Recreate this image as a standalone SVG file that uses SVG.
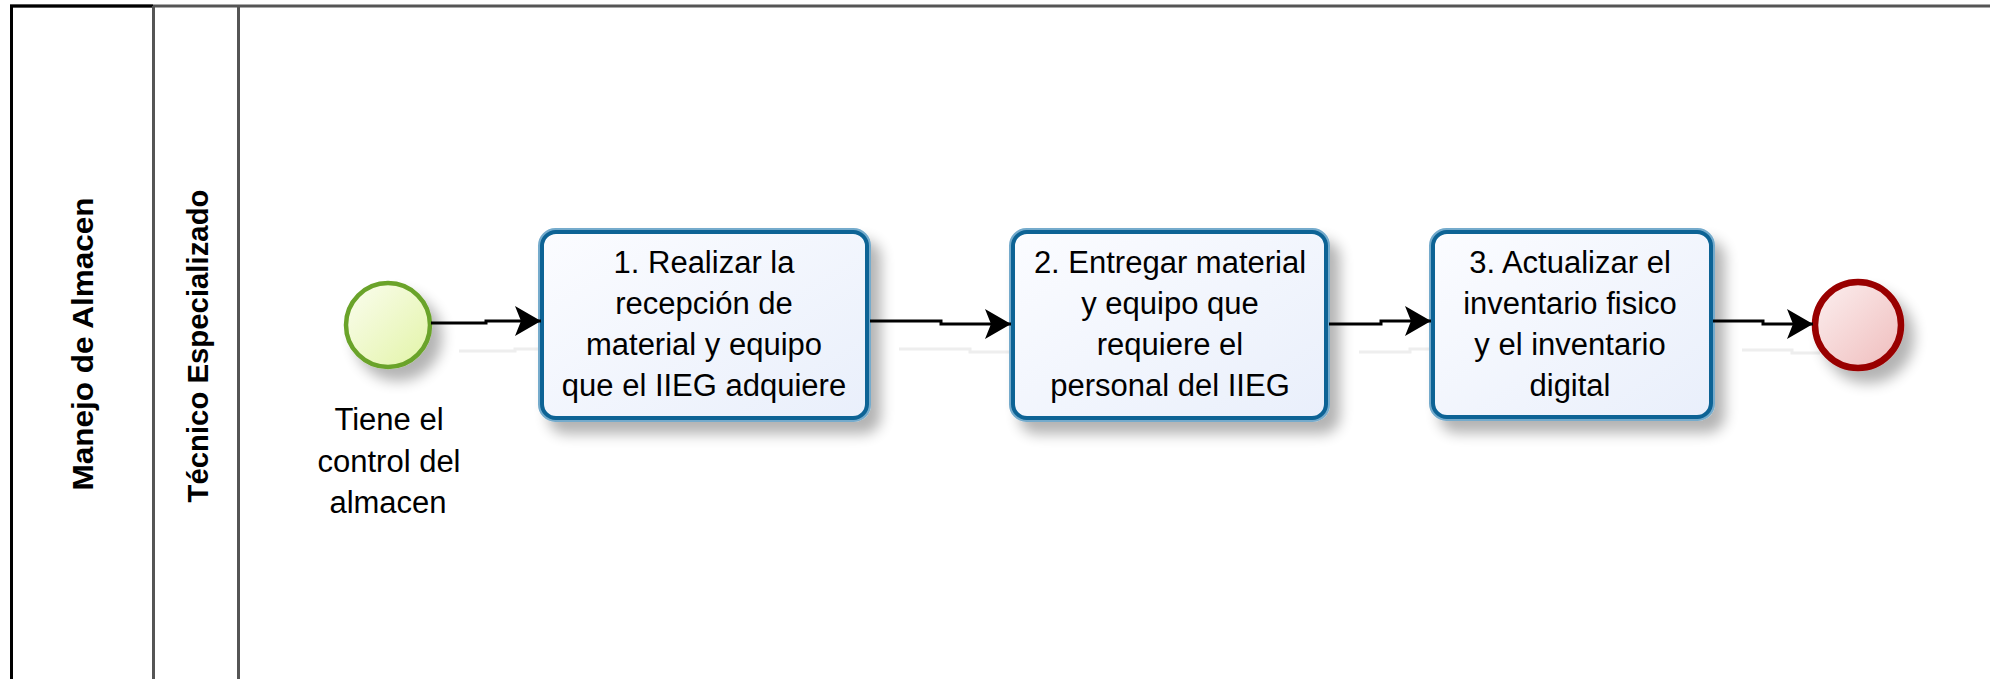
<svg xmlns="http://www.w3.org/2000/svg" width="1990" height="679" viewBox="0 0 1990 679">
<style>
.lbl{font-family:"Liberation Sans",Arial,sans-serif;font-size:31px;fill:#000;text-anchor:middle}
.lane{font-family:"Liberation Sans",Arial,sans-serif;font-size:30px;font-weight:bold;fill:#000;text-anchor:middle}
.conn{fill:none;stroke:#000;stroke-width:3;marker-end:url(#arr)}
.csh{fill:none;stroke:#eeeeee;stroke-width:3}
.boxo{fill:none;stroke:#74abcc;stroke-width:3}
.boxi{fill:url(#gBox);stroke:#0d6395;stroke-width:4}
</style>
<defs>
<linearGradient id="gBox" x1="0" y1="0" x2="1" y2="1">
<stop offset="0" stop-color="#fbfcff"/><stop offset="1" stop-color="#e9effb"/>
</linearGradient>
<linearGradient id="gStart" x1="0" y1="0" x2="1" y2="1">
<stop offset="0" stop-color="#fbfdf0"/><stop offset="1" stop-color="#e2f4a6"/>
</linearGradient>
<linearGradient id="gEnd" x1="0" y1="0" x2="1" y2="1">
<stop offset="0" stop-color="#fcf0f0"/><stop offset="1" stop-color="#efbcbc"/>
</linearGradient>
<filter id="sh" x="-30%" y="-30%" width="170%" height="170%">
<feGaussianBlur in="SourceAlpha" stdDeviation="7"/>
<feOffset dx="10" dy="12"/>
<feComponentTransfer><feFuncA type="linear" slope="0.3"/></feComponentTransfer>
<feMerge><feMergeNode/><feMergeNode in="SourceGraphic"/></feMerge>
</filter>
<marker id="arr" viewBox="-27 -16 28 32" markerWidth="28" markerHeight="32" refX="0" refY="0" orient="auto" markerUnits="userSpaceOnUse">
<path d="M0,0 L-26,-15 L-20,0 L-26,15 Z" fill="#000"/>
</marker>
</defs>
<g id="pool">
<line x1="10" y1="6" x2="1990" y2="6" stroke="#555" stroke-width="3"/>
<line x1="10" y1="6" x2="153" y2="6" stroke="#000" stroke-width="3"/>
<line x1="11.5" y1="5" x2="11.5" y2="679" stroke="#000" stroke-width="3"/>
<line x1="153.5" y1="6" x2="153.5" y2="679" stroke="#555" stroke-width="3"/>
<line x1="238.5" y1="6" x2="238.5" y2="679" stroke="#555" stroke-width="3"/>
<text class="lane" transform="translate(93,344) rotate(-90)" textLength="293" lengthAdjust="spacingAndGlyphs">Manejo de Almacen</text>
<text class="lane" transform="translate(208,346) rotate(-90)" textLength="313" lengthAdjust="spacingAndGlyphs">Técnico Especializado</text>
</g>
<g id="connector-shadows">
<polyline class="csh" points="459,351 515,351 515,349 569,349"/>
<polyline class="csh" points="899,349 970,349 970,352 1038,352"/>
<polyline class="csh" points="1359,352 1410,352 1410,349 1458,349"/>
<polyline class="csh" points="1742,350 1792,350 1792,353 1820,353"/>
</g>
<g id="start">
<circle cx="388" cy="325" r="42" fill="url(#gStart)" stroke="#6aa329" stroke-width="4.5" filter="url(#sh)"/>
<text class="lbl" x="389" y="430">Tiene el</text>
<text class="lbl" x="389" y="472">control del</text>
<text class="lbl" x="388" y="513">almacen</text>
</g>
<g id="task1">
<g filter="url(#sh)">
<rect class="boxo" x="539.5" y="229.5" width="330" height="191" rx="16"/>
<rect class="boxi" x="542" y="232" width="325" height="186" rx="14"/>
</g>
<text class="lbl" x="704" y="273">1. Realizar la</text>
<text class="lbl" x="704" y="314">recepción de</text>
<text class="lbl" x="704" y="355">material y equipo</text>
<text class="lbl" x="704" y="396">que el IIEG adquiere</text>
</g>
<g id="task2">
<g filter="url(#sh)">
<rect class="boxo" x="1010.5" y="229.5" width="318" height="191" rx="16"/>
<rect class="boxi" x="1013" y="232" width="313" height="186" rx="14"/>
</g>
<text class="lbl" x="1170" y="273">2. Entregar material</text>
<text class="lbl" x="1170" y="314">y equipo que</text>
<text class="lbl" x="1170" y="355">requiere el</text>
<text class="lbl" x="1170" y="396">personal del IIEG</text>
</g>
<g id="task3">
<g filter="url(#sh)">
<rect class="boxo" x="1430.5" y="229.5" width="283" height="190" rx="16"/>
<rect class="boxi" x="1433" y="232" width="278" height="185" rx="14"/>
</g>
<text class="lbl" x="1570" y="273">3. Actualizar el</text>
<text class="lbl" x="1570" y="314">inventario fisico</text>
<text class="lbl" x="1570" y="355">y el inventario</text>
<text class="lbl" x="1570" y="396">digital</text>
</g>
<g id="end">
<circle cx="1858" cy="325" r="43" fill="url(#gEnd)" stroke="#990000" stroke-width="6.5" filter="url(#sh)"/>
</g>
<g id="connectors">
<polyline class="conn" points="431,323 486,323 486,321 541,321"/>
<polyline class="conn" points="870,321 941,321 941,324 1011,324"/>
<polyline class="conn" points="1329,324 1381,324 1381,321 1431,321"/>
<polyline class="conn" points="1713,321 1763,321 1763,324 1813,324"/>
</g>
</svg>
